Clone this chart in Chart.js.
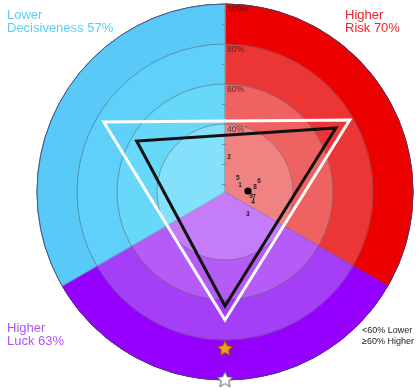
<!DOCTYPE html>
<html lang="en">
<head>
    <meta charset="UTF-8">
    <title>Risk / Luck / Decisiveness</title>
    <script src="https://cdn.jsdelivr.net/npm/chart.js"></script>
    <style>
        html, body { margin: 0; padding: 0; background: #fff; }
        #wrap { width: 420px; height: 390px; }
    </style>
</head>
<body>
    <div id="wrap"><canvas id="chart" width="420" height="390"></canvas></div>

    <script>
        // categories, clockwise from the top
        const categories = ['Risk', 'Luck', 'Decisiveness'];
        const scoreValues = [70, 63, 57];          // black triangle
        const benchmarkValues = [78, 70, 76];      // white triangle
        const bandLimits = [40, 60, 80, 100];
        const scaleMin = 6;
        const scaleMax = 100;
        const ringTicks = [40, 60, 80, 100];
        const ringTickLabels = ['40%', '60%', '80%', '100%'];
        const minorTicks = [10, 20, 30, 50, 70, 90];
        const starCategory = 'Luck';
        const starValues = [84, 99.5];

        // small numbered items near the middle (angle in degrees from the top, value in %)
        const itemLabels = ['1', '2', '3', '4', '5', '6', '7', '8', '9'];
        const itemAngles = [65, 6.5, 134, 110, 42, 72, 100, 80.5, 98.5];
        const itemValues = [14.3, 23.6, 21.9, 20.9, 15.5, 23.9, 20.7, 21.2, 19.2];
        const dotAngle = 87.5;
        const dotValue = 17.5;

        // styling
        const shades = {
            Risk: ['#F08282', '#EF6262', '#EC3535', '#EC0000'],
            Luck: ['#C47CF8', '#B55BF6', '#A53FF7', '#9600FF'],
            Decisiveness: ['#84E1FB', '#68D8FA', '#5FD0F9', '#59C9F7']
        };
        const FONT = "'Liberation Sans', Arial, sans-serif";

        // each category takes two 60deg slots so that its centre falls on a scale index
        const slots = categories.flatMap(c => [c, c]);
        const toSlots = values => slots.map((c, i) => i % 2 ? values[(i - 1) / 2] : null);

        function makeStar(size, fill, stroke) {
            const c = document.createElement('canvas');
            c.width = c.height = size;
            const g = c.getContext('2d');
            const cx = size / 2, cy = size / 2 + 0.8;
            const R = size / 2 - 1, r = R * 0.46;
            g.beginPath();
            for (let i = 0; i < 10; i++) {
                const a = -Math.PI / 2 + i * Math.PI / 5;
                const rad = i % 2 ? r : R;
                g.lineTo(cx + rad * Math.cos(a), cy + rad * Math.sin(a));
            }
            g.closePath();
            g.fillStyle = fill;
            g.fill();
            g.lineWidth = 1;
            g.strokeStyle = stroke;
            g.stroke();
            return c;
        }
        const starStyles = [makeStar(19, '#F5A21B', '#6b4a10'), makeStar(19, '#ffffff', '#555555')];

        const starIndex = slots.indexOf(starCategory) + 1;
        const datasets = [];

        starValues.forEach((v, k) => {
            datasets.push({
                type: 'radar',
                label: 'star' + k,
                data: slots.map((c, i) => i === starIndex ? v : null),
                showLine: false,
                pointStyle: starStyles[k],
                pointRadius: 8,
                order: 0,
                clip: false
            });
        });

        datasets.push({
            type: 'radar',
            label: 'Score',
            data: toSlots(scoreValues),
            borderColor: '#111111',
            borderWidth: 3,
            fill: false,
            spanGaps: true,
            pointRadius: 0,
            order: 1,
            clip: false
        });

        datasets.push({
            type: 'radar',
            label: 'Benchmark',
            data: toSlots(benchmarkValues),
            borderColor: '#ffffff',
            borderWidth: 3,
            fill: false,
            spanGaps: true,
            pointRadius: 0,
            order: 2,
            clip: false
        });

        const firstBandIndex = datasets.length;
        bandLimits.forEach((limit, b) => {
            const colors = slots.map(c => shades[c][b]);
            datasets.push({
                type: 'polarArea',
                label: 'band' + limit,
                data: slots.map(() => limit),
                backgroundColor: colors,
                borderColor: colors,
                borderWidth: 1,
                order: 3 + b
            });
        });

        const overlay = {
            id: 'overlay',
            afterDatasetDraw(chart, args) {
                // rings drawn over the coloured bands, below the triangles
                if (args.index === firstBandIndex) chart.scales.r.drawGrid();
            },
            afterDraw(chart) {
                const s = chart.scales.r;
                const ctx = chart.ctx;
                const at = (deg, v) => s.getPointPosition(0, s.getDistanceFromCenterForValue(v), deg * Math.PI / 180);
                ctx.save();

                // minor ticks on the vertical axis
                ctx.strokeStyle = '#7d8a92';
                ctx.lineWidth = 1;
                minorTicks.forEach(v => {
                    const p = at(0, v);
                    const y = Math.round(p.y) + 0.5;
                    ctx.beginPath();
                    ctx.moveTo(p.x - 3, y);
                    ctx.lineTo(p.x + 1, y);
                    ctx.stroke();
                });

                // ring labels
                ctx.font = '8.5px ' + FONT;
                ctx.fillStyle = 'rgba(55,35,35,0.85)';
                ctx.textAlign = 'left';
                ctx.textBaseline = 'middle';
                ringTicks.forEach((v, i) => {
                    const p = at(0, v);
                    ctx.fillText(ringTickLabels[i], p.x + 2, p.y + 6);
                });

                // numbered items and the dot
                ctx.font = 'bold 6.5px ' + FONT;
                ctx.fillStyle = '#222';
                ctx.textAlign = 'center';
                itemLabels.forEach((t, i) => {
                    const p = at(itemAngles[i], itemValues[i]);
                    ctx.fillText(t, p.x, p.y);
                });
                const d = at(dotAngle, dotValue);
                ctx.beginPath();
                ctx.arc(d.x, d.y, 3.6, 0, Math.PI * 2);
                ctx.fillStyle = '#000';
                ctx.fill();

                // corner captions
                ctx.textAlign = 'left';
                ctx.textBaseline = 'alphabetic';
                ctx.font = '13px ' + FONT;
                ctx.fillStyle = '#5BCDF8';
                ctx.fillText('Lower', 7, 19);
                ctx.fillText('Decisiveness ' + scoreValues[2] + '%', 7, 32);
                ctx.fillStyle = '#E6232F';
                ctx.fillText('Higher', 345, 19);
                ctx.fillText('Risk ' + scoreValues[0] + '%', 345, 32);
                ctx.fillStyle = '#AC55FA';
                ctx.fillText('Higher', 7, 332);
                ctx.fillText('Luck ' + scoreValues[1] + '%', 7, 345);

                ctx.font = '9px ' + FONT;
                ctx.fillStyle = '#222';
                ctx.fillText('<60% Lower', 362, 333);
                ctx.fillText('\u226560% Higher', 362, 343.5);
                ctx.restore();
            }
        };

        new Chart(document.getElementById('chart'), {
            type: 'polarArea',
            data: { labels: slots, datasets: datasets },
            options: {
                responsive: false,
                animation: false,
                events: [],
                layout: { padding: { left: 37, right: 7, top: 4, bottom: 10 } },
                plugins: { legend: { display: false }, tooltip: { enabled: false } },
                scales: {
                    r: {
                        min: scaleMin,
                        max: scaleMax,
                        beginAtZero: false,
                        startAngle: 0,
                        afterBuildTicks: scale => {
                            scale.ticks = [scaleMin].concat(ringTicks).map(v => ({ value: v }));
                        },
                        ticks: { display: false },
                        pointLabels: { display: false },
                        grid: {
                            circular: true,
                            lineWidth: 1,
                            color: ctx => ctx.tick && ctx.tick.value === scaleMax ? 'rgba(70,60,110,0.85)' : 'rgba(70,70,70,0.45)'
                        },
                        angleLines: {
                            display: true,
                            color: ctx => ctx.index === 0 ? '#7d8a92' : 'rgba(90,90,90,0.3)',
                            lineWidth: ctx => ctx.index % 2 === 0 ? 1 : 0
                        }
                    }
                }
            },
            plugins: [overlay]
        });
    </script>
</body>
</html>
